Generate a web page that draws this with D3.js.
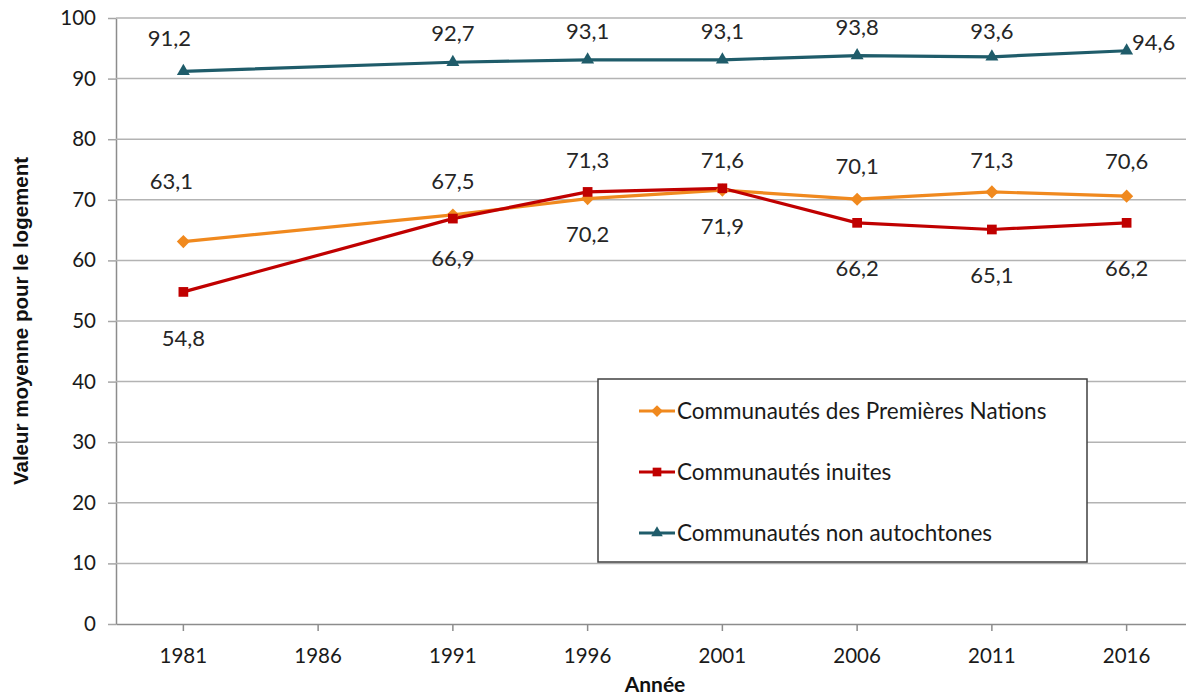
<!DOCTYPE html>
<html>
<head>
<meta charset="utf-8">
<script src="https://cdn.jsdelivr.net/npm/d3@7"></script>
<style>
  html, body { margin: 0; padding: 0; background: #fff; }
  svg { display: block; }
</style>
</head>
<body>
<svg id="chart" width="1186" height="700"></svg>
<script>
// Census years shown on the category axis
const years = ["1981", "1986", "1991", "1996", "2001", "2006", "2011", "2016"];

// Average dwelling value per community type (null = no data for that year)
const premieresNations = [63.1, null, 67.5, 70.2, 71.6, 70.1, 71.3, 70.6];
const inuites          = [54.8, null, 66.9, 71.3, 71.9, 66.2, 65.1, 66.2];
const nonAutochtones   = [91.2, null, 92.7, 93.1, 93.1, 93.8, 93.6, 94.6];

const yTicks = [0, 10, 20, 30, 40, 50, 60, 70, 80, 90, 100];

const seriesNames = [
  "Communautés des Premières Nations",
  "Communautés inuites",
  "Communautés non autochtones"
];

// Label placement (vertical offset in px from the point, horizontal shift)
const labelPlacement = [
  { dy: [-60, 0, -34, 36, -30, -33, -32, -35], dx: [-12, 0, 0, 0, 0, 0, 0, 0] },
  { dy: [46, 0, 40, -32, 38, 45, 46, 45], dx: [0, 0, 0, 0, 0, 0, 0, 0] },
  { dy: [-33, 0, -29, -29, -29, -28, -25, -8], dx: [-14, 0, 0, 0, 0, 0, 0, 27] }
];

const series = [
  { name: seriesNames[0], values: premieresNations, color: "#F0891E", symbol: d3.symbolDiamond2, size: 110, place: labelPlacement[0] },
  { name: seriesNames[1], values: inuites,          color: "#C00000", symbol: d3.symbolSquare2,  size: 120, place: labelPlacement[1] },
  { name: seriesNames[2], values: nonAutochtones,   color: "#1F5C6A", symbol: d3.symbolTriangle2, size: 120, place: labelPlacement[2] }
];

const svg = d3.select("#chart");
const margin = { left: 116, top: 18, bottom: 76 };
const plotW = 1194 - margin.left;
const plotH = 700 - margin.top - margin.bottom; // 606

const x = d3.scaleBand().domain(years).range([margin.left, margin.left + plotW]);
const y = d3.scaleLinear().domain([0, 100]).range([margin.top + plotH, margin.top]);
const cx = d => x(d) + x.bandwidth() / 2;

const tickFont = "Lato, 'Open Sans', sans-serif";

// Left tick marks and value labels
const yAxis = d3.axisLeft(y).tickValues(yTicks).tickSize(8).tickSizeOuter(0).tickPadding(12);
const gy = svg.append("g").attr("transform", `translate(${margin.left},0)`).call(yAxis);
gy.select(".domain").attr("stroke", "#8c8c8c").attr("stroke-width", 1.5);
gy.selectAll(".tick line").attr("stroke", "#a6a6a6").attr("stroke-width", 1.5);
gy.selectAll(".tick text").attr("font-family", tickFont).attr("font-size", 20.5).attr("fill", "#1a1a1a");

// Horizontal gridlines
svg.append("g").selectAll("line.grid").data(yTicks.filter(t => t > 0)).join("line")
  .attr("x1", margin.left).attr("x2", margin.left + plotW)
  .attr("y1", d => y(d)).attr("y2", d => y(d))
  .attr("stroke", "#b3b3b3").attr("stroke-width", 1.5);

// Category axis
const xAxis = d3.axisBottom(x).tickSize(7).tickSizeOuter(0).tickPadding(17);
const gx = svg.append("g").attr("transform", `translate(0,${y(0)})`).call(xAxis);
gx.select(".domain").attr("stroke", "#8c8c8c").attr("stroke-width", 1.5);
gx.selectAll(".tick line").attr("stroke", "#8c8c8c").attr("stroke-width", 1.5);
gx.selectAll(".tick text").attr("font-family", tickFont).attr("font-size", 20.5).attr("fill", "#1a1a1a");

// Axis titles
svg.append("text")
  .attr("transform", `translate(28,${margin.top + plotH / 2}) rotate(-90)`)
  .attr("text-anchor", "middle")
  .attr("font-family", "'Liberation Sans', Arial, sans-serif")
  .attr("font-weight", "bold").attr("font-size", 20.5).attr("fill", "#111")
  .text("Valeur moyenne pour le logement");

svg.append("text")
  .attr("x", 655).attr("y", 692)
  .attr("text-anchor", "middle")
  .attr("font-family", tickFont)
  .attr("font-weight", "bold").attr("font-size", 21).attr("fill", "#111")
  .text("Année");

// Lines (years without data are skipped, joining neighbours directly)
series.forEach(s => {
  const pts = years.map((yr, i) => ({ yr, v: s.values[i], i })).filter(p => p.v !== null);
  s.pts = pts;
  svg.append("path")
    .datum(pts)
    .attr("fill", "none")
    .attr("stroke", s.color)
    .attr("stroke-width", 3.2)
    .attr("stroke-linejoin", "round")
    .attr("d", d3.line().x(p => cx(p.yr)).y(p => y(p.v)));
});

// Markers
series.forEach(s => {
  svg.append("g").selectAll("path").data(s.pts).join("path")
    .attr("transform", p => `translate(${cx(p.yr)},${y(p.v)})`)
    .attr("d", d3.symbol().type(s.symbol).size(s.size))
    .attr("fill", s.color);
});

// Value labels
series.forEach(s => {
  svg.append("g").selectAll("text").data(s.pts).join("text")
    .attr("x", p => cx(p.yr) + s.place.dx[p.i])
    .attr("y", p => y(p.v) + s.place.dy[p.i])
    .attr("dy", "0.35em")
    .attr("text-anchor", "middle")
    .attr("font-family", tickFont).attr("font-size", 22).attr("fill", "#262626")
    .text(p => d3.format(".1f")(p.v).replace(".", ","));
});

// Legend
const lg = svg.append("g").attr("transform", "translate(598,379)");
lg.append("rect").attr("width", 489).attr("height", 183)
  .attr("fill", "#fff").attr("stroke", "#404040").attr("stroke-width", 1.5);
series.forEach((s, i) => {
  const rowY = 32 + i * 61;
  const row = lg.append("g").attr("transform", `translate(0,${rowY})`);
  row.append("line").attr("x1", 41).attr("x2", 77).attr("y1", 0).attr("y2", 0)
    .attr("stroke", s.color).attr("stroke-width", 3.2);
  row.append("path").attr("transform", "translate(59,0)")
    .attr("d", d3.symbol().type(s.symbol).size(s.size * 0.8)).attr("fill", s.color);
  row.append("text").attr("x", 79).attr("y", 0).attr("dy", "0.35em")
    .attr("font-family", tickFont).attr("font-size", 22.5).attr("fill", "#1a1a1a")
    .text(s.name);
});
</script>
</body>
</html>
